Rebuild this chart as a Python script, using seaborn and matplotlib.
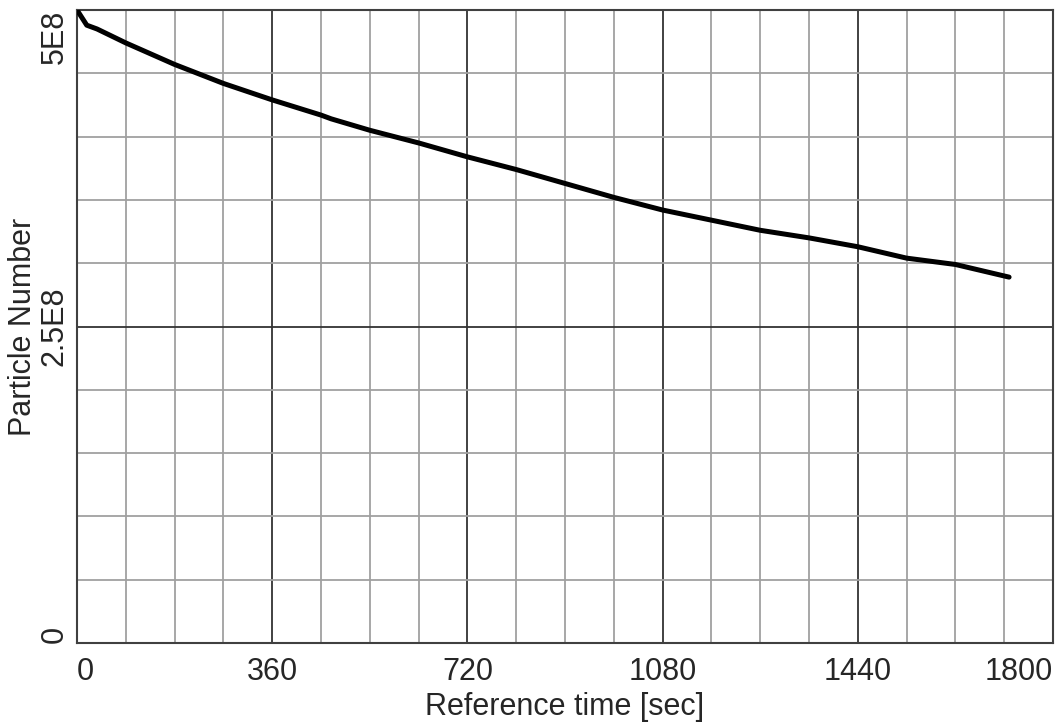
import numpy as np
import pandas as pd
import matplotlib
matplotlib.use("Agg")
import matplotlib.pyplot as plt
from matplotlib.ticker import MultipleLocator
import seaborn as sns

sns.set_style("white")
plt.rcParams["font.family"] = ["Liberation Sans", "DejaVu Sans"]

# reference time (sec) and particle number
time_sec = [0, 18, 37, 90, 180, 270, 360, 450, 469, 540, 630, 720, 810,
            900, 990, 1080, 1170, 1260, 1350, 1440, 1530, 1620, 1719]
particles = [5.00e8, 4.88e8, 4.85e8, 4.74e8, 4.57e8, 4.42e8, 4.29e8, 4.17e8,
             4.14e8, 4.05e8, 3.95e8, 3.84e8, 3.74e8, 3.63e8, 3.52e8, 3.42e8,
             3.34e8, 3.26e8, 3.20e8, 3.13e8, 3.04e8, 2.99e8, 2.89e8]

x_ticks = [0, 360, 720, 1080, 1440, 1800]
x_labels = ["0", "360", "720", "1080", "1440", "1800"]
y_ticks = [0, 2.5e8, 5e8]
y_labels = ["0", "2.5E8", "5E8"]

df = pd.DataFrame({"t": time_sec, "n": particles})

fig = plt.figure(figsize=(10.55, 7.23), dpi=100)
ax = fig.add_axes([77 / 1055, 80 / 723, 976 / 1055, 633 / 723])

sns.lineplot(data=df, x="t", y="n", ax=ax, color="black", linewidth=3.6,
             zorder=5)

ax.set_xlim(0, 1800)
ax.set_ylim(0, 5e8)

# grid: light every 90 s / 5E7, dark every 360 s / 2.5E8
ax.xaxis.set_minor_locator(MultipleLocator(90))
ax.yaxis.set_minor_locator(MultipleLocator(5e7))
ax.set_xticks(x_ticks)
ax.set_yticks(y_ticks)
ax.grid(which="minor", color="#a0a0a0", linewidth=1.3)
ax.grid(which="major", color="#333333", linewidth=1.3)
ax.tick_params(which="both", length=0)
ax.tick_params(axis="x", pad=10, labelsize=22)
ax.tick_params(axis="y", pad=5.4, labelsize=22)

ax.set_xticklabels(x_labels)
ax.set_yticklabels(y_labels, rotation=90)
xl = ax.get_xticklabels()
xl[0].set_ha("left")
xl[-1].set_ha("right")
yl = ax.get_yticklabels()
yl[0].set_va("bottom")
yl[1].set_va("center")
yl[2].set_va("top")

for s in ax.spines.values():
    s.set_color("#404040")
    s.set_linewidth(1.5)

ax.set_xlabel("Reference time [sec]", fontsize=22)
ax.set_ylabel("Particle Number", fontsize=22)
ax.xaxis.set_label_coords(0.5, -0.077)
ax.yaxis.set_label_coords(-0.040, 0.5)

fig.savefig("out.png", dpi=100)
